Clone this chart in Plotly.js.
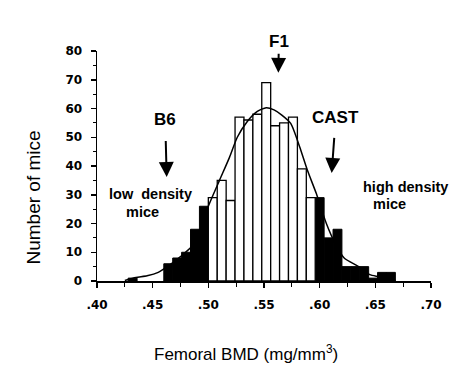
<!DOCTYPE html>
<html>
<head>
<meta charset="utf-8">
<script src="https://cdn.plot.ly/plotly-3.0.1.min.js"></script>
<style>
  html, body { margin: 0; padding: 0; background: #fff; }
  #chart { width: 451px; height: 366px; }
</style>
</head>
<body>
<div id="chart"></div>
<script>
// Histogram of femoral BMD in the mouse cross, bin width 0.008 mg/mm3.
// Tails (low / high density mice) are drawn filled, the middle bins open.
const binWidth = 0.008;

const tailBins   = [0.428, 0.460, 0.468, 0.476, 0.484, 0.492,
                    0.596, 0.604, 0.612, 0.620, 0.628, 0.636, 0.644, 0.652, 0.660];
const tailCounts = [1, 6, 8, 10, 18, 26,
                    29, 15, 18, 5, 5, 5, 1, 3, 3];

const midBins   = [0.500, 0.508, 0.516, 0.524, 0.532, 0.540,
                   0.548, 0.556, 0.564, 0.572, 0.580, 0.588];
const midCounts = [29, 35, 28, 57, 56, 58, 69, 54, 55, 57, 39, 29];

// Fitted distribution curve, sampled along the BMD axis
const fitX = [0.425, 0.435, 0.445, 0.455, 0.465, 0.475, 0.485, 0.492, 0.500,
              0.510, 0.519, 0.526, 0.535, 0.544, 0.552, 0.559, 0.566, 0.574,
              0.582, 0.589, 0.597, 0.606, 0.614, 0.622, 0.635, 0.645, 0.653,
              0.660, 0.668];
const fitY = [0.2, 1.2, 1.8, 3.0, 5.5, 8.5, 12, 17, 26,
              35, 43, 50, 55.5, 59, 60.3, 59.5, 57.7, 54.8,
              46.7, 38.5, 30.4, 20, 13, 8, 5, 2.2, 1.5,
              0.8, 0.2];

const xTicks = [0.40, 0.45, 0.50, 0.55, 0.60, 0.65, 0.70];
const xTickText = ['.40', '.45', '.50', '.55', '.60', '.65', '.70'];
const yTicks = [0, 10, 20, 30, 40, 50, 60, 70, 80];

// Parental / F1 strain means: arrow tip on the BMD axis, label above it
const strainNames = ['B6', 'F1', 'CAST'];
const strainArrowX = [0.4626, 0.5629, 0.6108];
const strainArrowTip = [36.2, 72.4, 37.6];
const strainLabelDx = [-1.5, 0.5, 4];     // px, label centre relative to tip
const strainLabelDy = [-57, -31, -55];    // px, label centre above tip
const strainStandoff = [10, 1, 9];

const sideNotes = ['low  density', 'mice', 'high density', 'mice'];
const sideNoteX = [0.4483, 0.4409, 0.6767, 0.6623];
const sideNoteY = [30.4, 24.0, 32.8, 26.8];

const traces = [
  {
    type: 'bar', x: tailBins, y: tailCounts, width: binWidth, offset: 0,
    marker: { color: '#000', line: { color: '#000', width: 1 } },
    hoverinfo: 'x+y'
  },
  {
    type: 'bar', x: midBins, y: midCounts, width: binWidth, offset: 0,
    marker: { color: '#fff', line: { color: '#000', width: 1.3 } },
    hoverinfo: 'x+y'
  },
  {
    type: 'scatter', mode: 'lines', x: fitX, y: fitY,
    line: { color: '#000', width: 1.5, shape: 'spline', smoothing: 0.6 },
    hoverinfo: 'skip'
  }
];

const labelFont = { family: 'Liberation Sans, Arial, sans-serif', size: 17, color: '#000', weight: 'bold' };
const noteFont = { family: 'Liberation Sans, Arial, sans-serif', size: 14.5, color: '#000', weight: 'bold' };

const annotations = [];
strainNames.forEach((name, i) => {
  annotations.push({
    x: strainArrowX[i], y: strainArrowTip[i], xref: 'x', yref: 'y',
    ax: strainLabelDx[i], ay: strainLabelDy[i],
    text: name, font: labelFont,
    showarrow: true, arrowhead: 2, arrowsize: 1.5, arrowwidth: 2,
    arrowcolor: '#000', startstandoff: strainStandoff[i]
  });
});
sideNotes.forEach((t, i) => {
  annotations.push({
    x: sideNoteX[i], y: sideNoteY[i], xref: 'x', yref: 'y',
    text: t, showarrow: false, font: noteFont
  });
});

// Axis titles, placed in pixel terms relative to the plot area
const W = 451, H = 366, L = 97, R = 20, T = 51, B = 85;
const px = (v) => (v - L) / (W - L - R);
const py = (v) => (H - B - v) / (H - T - B);

annotations.push({
  x: px(246), y: py(353), xref: 'paper', yref: 'paper', yanchor: 'middle',
  text: 'Femoral BMD (mg/mm<sup>3</sup>)', showarrow: false,
  font: { family: 'Liberation Sans, Arial, sans-serif', size: 17, color: '#000' }
});
annotations.push({
  x: px(20), y: py(198), xref: 'paper', yref: 'paper',
  text: 'Number of mice', textangle: -90, showarrow: false,
  font: { family: 'Liberation Sans, Arial, sans-serif', size: 19, color: '#000' }
});

const tickFont = { family: 'DejaVu Sans, sans-serif', size: 12, color: '#000', weight: 'bold' };

const layout = {
  width: W, height: H,
  margin: { l: L, r: R, t: T, b: B },
  paper_bgcolor: '#fff', plot_bgcolor: '#fff',
  showlegend: false,
  bargap: 0,
  barmode: 'overlay',
  xaxis: {
    range: [0.40, 0.70], tickvals: xTicks, ticktext: xTickText,
    showgrid: false, zeroline: false,
    showline: true, linecolor: '#000', linewidth: 1.5,
    ticks: 'outside', ticklen: 5, tickwidth: 1.5, tickcolor: '#000',
    minor: { tick0: 0.40, dtick: 0.025, ticks: 'outside', ticklen: 4, tickwidth: 1.2, tickcolor: '#000', showgrid: false },
    tickfont: tickFont, ticklabelstandoff: 7
  },
  yaxis: {
    range: [0, 80], tickvals: yTicks,
    showgrid: false, zeroline: false,
    showline: true, linecolor: '#000', linewidth: 1.5,
    ticks: 'outside', ticklen: 5, tickwidth: 1.5, tickcolor: '#000',
    minor: { tick0: 0, dtick: 5, ticks: 'outside', ticklen: 3, tickwidth: 1.2, tickcolor: '#000', showgrid: false },
    tickfont: tickFont, ticklabelstandoff: 6
  },
  annotations: annotations
};

Plotly.newPlot('chart', traces, layout, { staticPlot: true, displayModeBar: false });
</script>
</body>
</html>
